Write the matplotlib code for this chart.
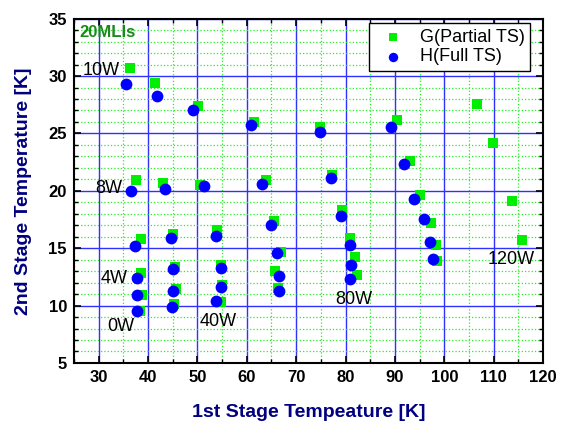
import matplotlib
matplotlib.use("Agg")
import matplotlib.pyplot as plt
from matplotlib.ticker import MultipleLocator

plt.rcParams["font.family"] = ["Liberation Sans", "DejaVu Sans"]

# G (partial thermal shield) - 1st stage T, 2nd stage T
g_x = [36.3, 41.5, 50.1, 61.5, 74.8, 90.4, 106.6, 109.8,
       37.5, 43.1, 50.6, 63.8, 77.3, 93.1, 95.0, 113.7,
       38.5, 45.1, 54.0, 65.5, 79.3, 97.2, 115.7,
       38.6, 45.4, 54.8, 66.9, 81.0, 98.4,
       38.75, 45.6, 54.9, 65.8, 82.0, 98.5,
       38.35, 45.2, 54.8, 66.3, 82.4]
g_y = [30.7, 29.4, 27.4, 26.0, 25.6, 26.2, 27.6, 24.2,
       20.9, 20.7, 20.5, 20.9, 21.4, 22.6, 19.6, 19.1,
       15.8, 16.2, 16.6, 17.4, 18.3, 17.2, 15.7,
       12.8, 13.35, 13.5, 14.7, 15.9, 15.3,
       10.9, 11.45, 11.75, 13.0, 14.2, 13.9,
       9.5, 10.1, 10.3, 11.5, 12.7]

# H (full thermal shield)
h_x = [35.6, 41.8, 49.2, 60.9, 74.8, 89.1,
       36.6, 43.4, 51.3, 63.0, 77.1, 91.8, 93.9,
       37.4, 44.7, 53.7, 64.9, 79.15, 95.8,
       37.8, 45.0, 54.7, 66.1, 80.8, 97.0,
       37.7, 45.1, 54.7, 66.5, 81.2, 97.7,
       37.8, 44.8, 53.8, 66.55, 81.0]
h_y = [29.3, 28.3, 27.0, 25.7, 25.1, 25.6,
       20.0, 20.2, 20.4, 20.6, 21.1, 22.3, 19.3,
       15.15, 15.9, 16.1, 17.0, 17.8, 17.5,
       12.4, 13.2, 13.3, 14.6, 15.3, 15.5,
       10.9, 11.3, 11.65, 12.6, 13.5, 14.1,
       9.55, 9.9, 10.4, 11.3, 12.3]

# heat load labels
load_labels = ["10W", "8W", "4W", "0W", "40W", "80W", "120W"]
load_x = [26.7, 29.4, 30.4, 31.8, 50.5, 77.9, 108.8]
load_y = [30.5, 20.2, 12.4, 8.2, 8.6, 10.5, 14.0]

fig = plt.figure(figsize=(5.64, 4.24), dpi=100)
ax = fig.add_axes([0.131, 0.144, 0.832, 0.812])

ax.scatter(g_x, g_y, marker="s", s=52, color="#00ee00", lw=0, label="G(Partial TS)", zorder=3)
ax.scatter(h_x, h_y, marker="o", s=72, color="#0000ff", lw=0, label="H(Full TS)", zorder=4)

for t, x, y in zip(load_labels, load_x, load_y):
    ax.text(x, y, t, fontsize=13, va="center", ha="left", color="black", zorder=5)
ax.text(26.2, 33.8, "20MLIs", fontsize=12, fontweight="bold", color="#1a8a1a",
        va="center", ha="left", zorder=5)

ax.set_xlim(25, 120)
ax.set_ylim(5, 35)
ax.xaxis.set_major_locator(MultipleLocator(10))
ax.xaxis.set_minor_locator(MultipleLocator(5))
ax.yaxis.set_major_locator(MultipleLocator(5))
ax.yaxis.set_minor_locator(MultipleLocator(1))
ax.grid(which="minor", color="#22ee22", ls=":", lw=0.9, zorder=0)
ax.grid(which="major", color="#3030ff", ls="-", lw=1.0, zorder=1)
ax.set_axisbelow(True)

ax.tick_params(which="both", direction="in", top=True, right=True)
ax.tick_params(which="major", length=5, width=1.2, labelsize=12, pad=5)
ax.tick_params(which="minor", length=3, width=1.0)
for lbl in ax.get_xticklabels() + ax.get_yticklabels():
    lbl.set_fontweight("bold")
for sp in ax.spines.values():
    sp.set_linewidth(1.5)

ax.set_xlabel("1st Stage Tempeature [K]", fontsize=14, fontweight="bold",
              color="#000080", labelpad=14)
ax.set_ylabel("2nd Stage Temperature [K]", fontsize=14, fontweight="bold",
              color="#000080", labelpad=12)

leg = ax.legend(loc="upper right", fontsize=13, frameon=True, fancybox=False,
                edgecolor="black", framealpha=1, borderaxespad=0,
                handletextpad=0.5, handlelength=2.0, labelspacing=0.15,
                borderpad=0.3, markerscale=0.8,
                bbox_to_anchor=(0.972, 0.987))
leg.get_frame().set_linewidth(1.0)

fig.savefig("out.png", dpi=100, facecolor="white")
